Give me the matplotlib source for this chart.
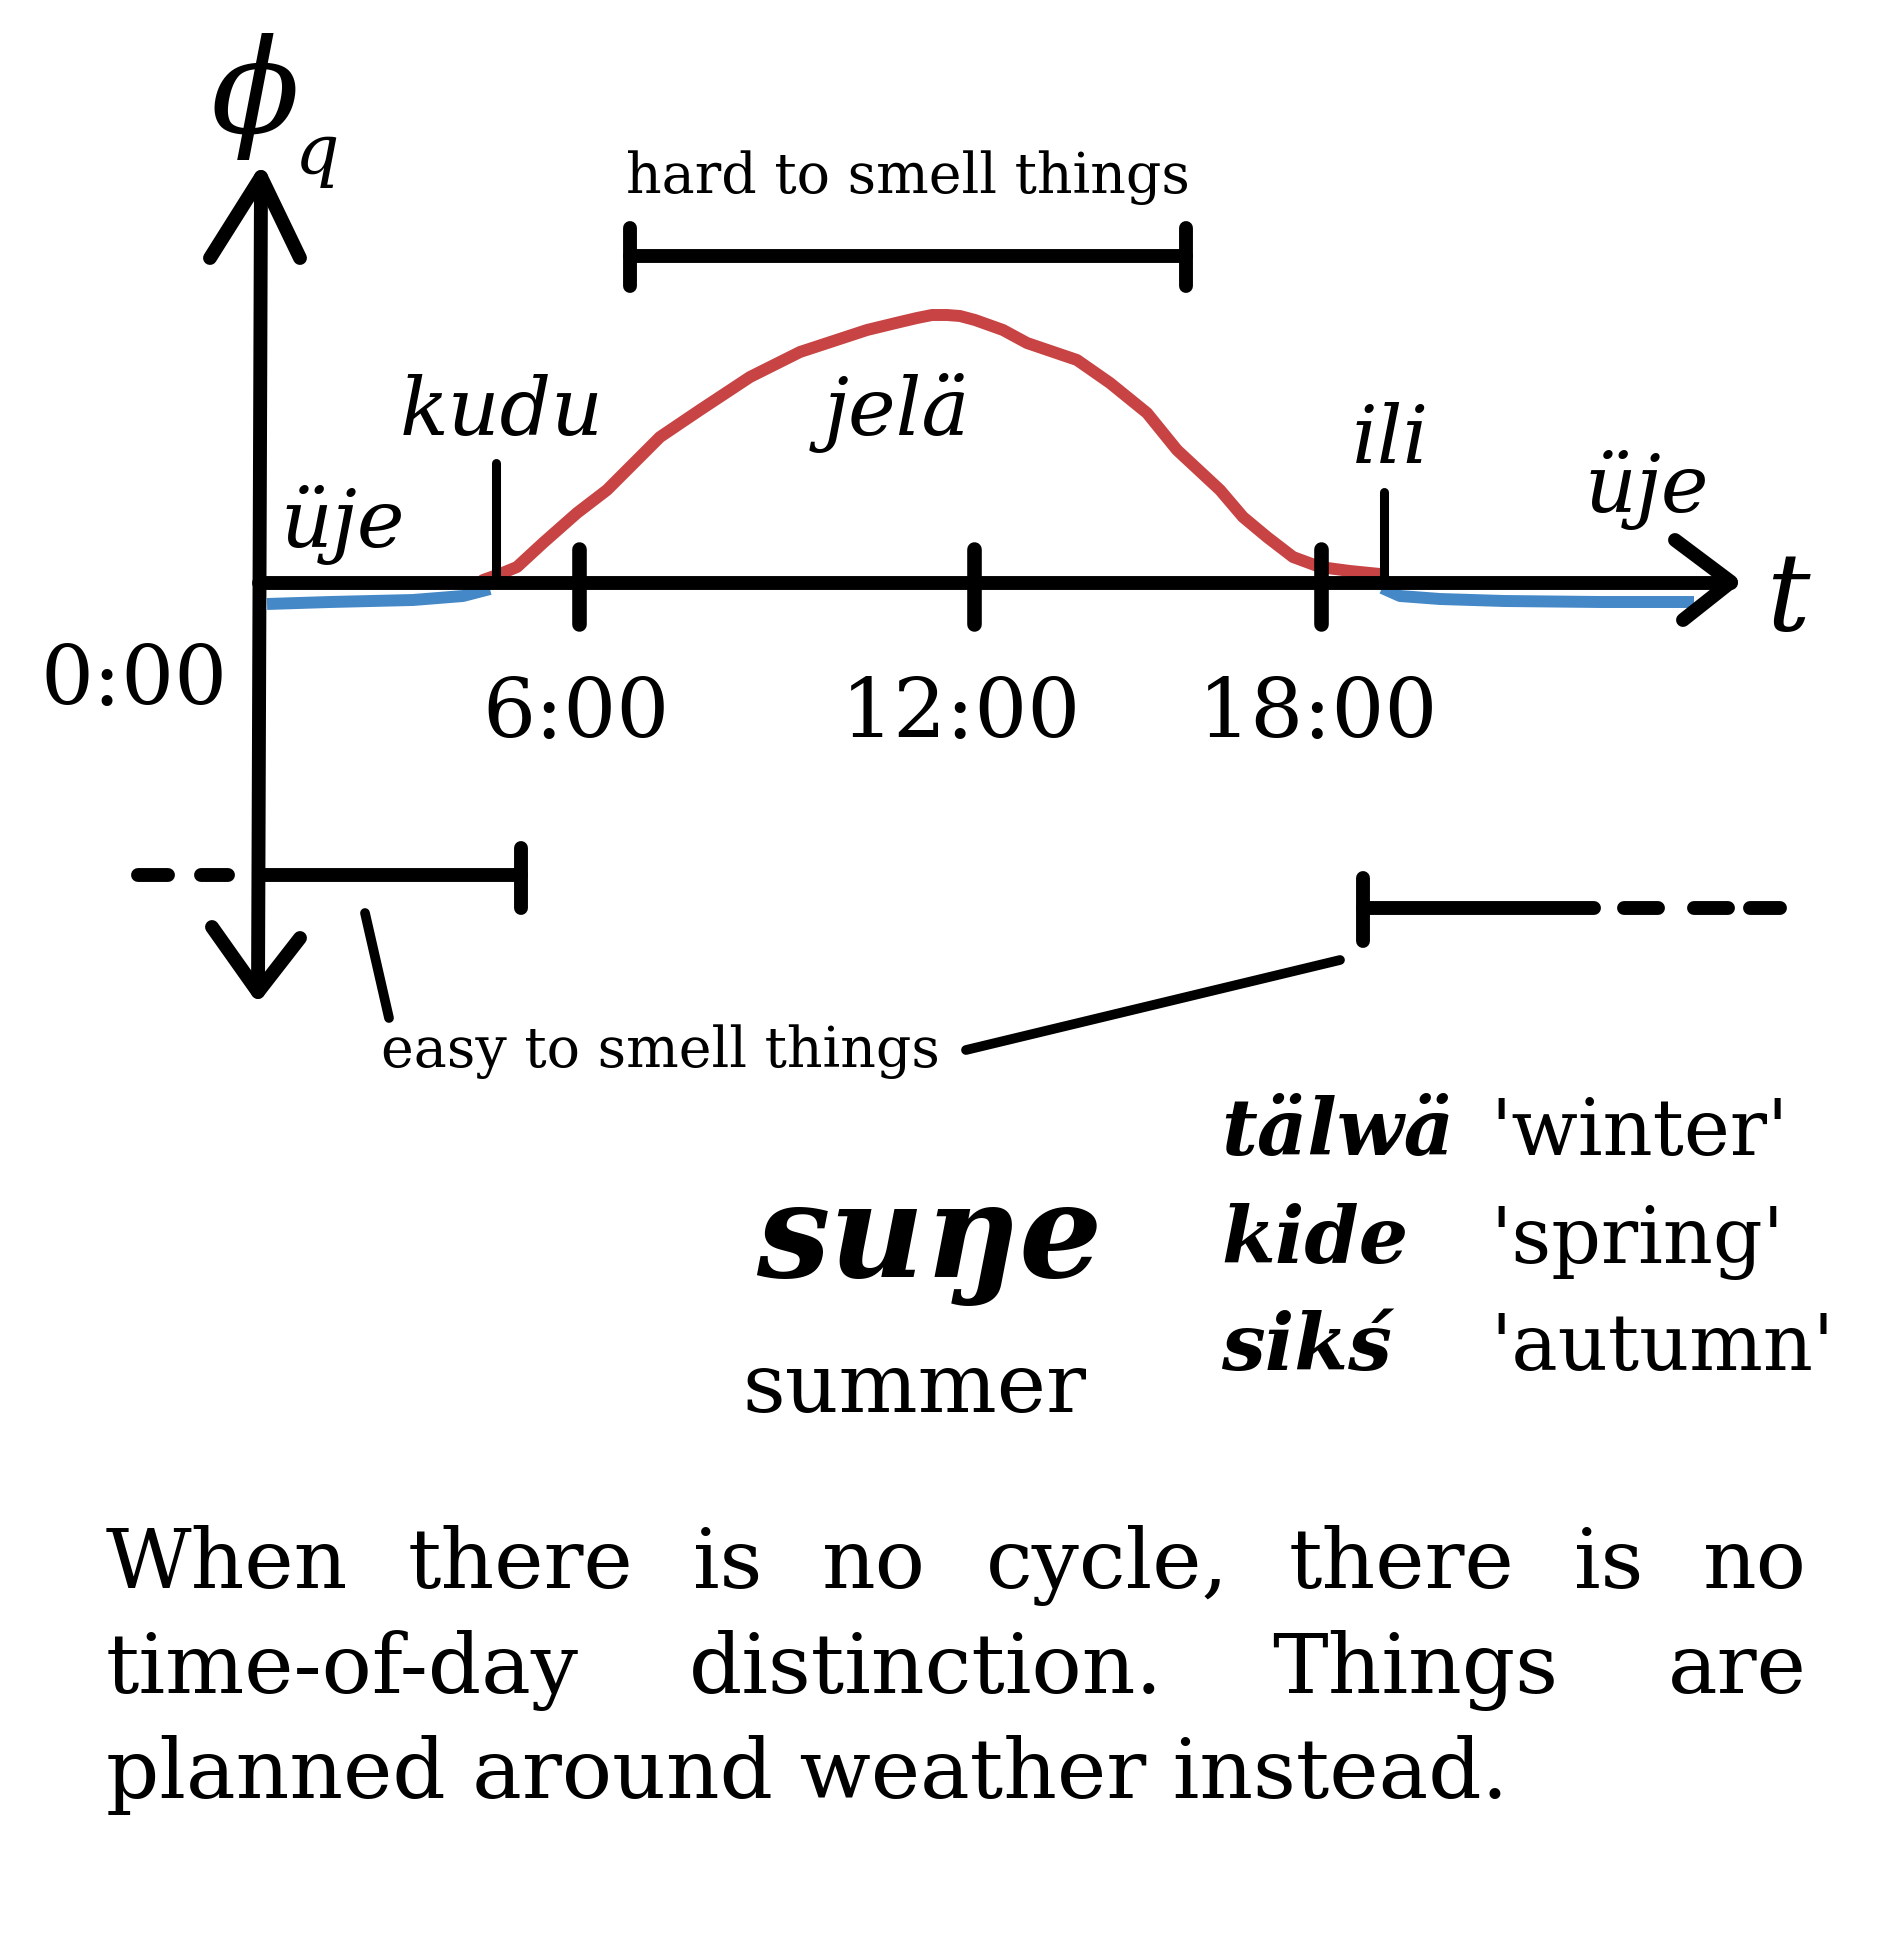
import numpy as np
import matplotlib.pyplot as plt

plt.rcParams['font.family'] = ['DejaVu Serif']
plt.rcParams['mathtext.fontset'] = 'dejavuserif'

W, H = 1888, 1948

# day curve (red) and night curves (blue), drawing coordinates
day_x = [483, 500, 517, 543, 577, 607, 637, 660, 700, 750, 800, 867, 900, 917, 932,
         947, 960, 975, 1003, 1027, 1077, 1110, 1147, 1177, 1220, 1243, 1267, 1293,
         1320, 1350, 1380]
day_y = [580, 574, 567, 543, 513, 490, 460, 437, 410, 377, 352, 330, 322, 318, 315,
         315, 316, 320, 330, 343, 360, 383, 413, 450, 490, 517, 537, 557,
         567, 571, 574]
night_am_x = [267, 330, 413, 463, 490]
night_am_y = [604, 602, 600, 596, 589]
night_pm_x = [1382, 1400, 1440, 1504, 1600, 1694]
night_pm_y = [588, 596, 599, 601, 602, 602]

tick_x = [579, 974, 1321]
tick_labels = ['6:00', '12:00', '18:00']
label_x = [576, 961, 1318]

# named parts of the day
phase_names = ['üje', 'kudu', 'jelä', 'ili', 'üje']
phase_x = [343, 502, 897, 1391, 1647]
phase_y = [547, 435, 435, 463, 512]
kudu_x, ili_x = 496, 1384

season_words = ['tälwä', 'kide', 'sikś']
season_gloss = ["'winter'", "'spring'", "'autumn'"]
season_base = [1155, 1263, 1370]

paragraph = ['When there is no cycle, there is no',
             'time-of-day distinction. Things are',
             'planned around weather instead.']
para_base = [1588, 1693, 1798]

RED = '#C84444'
BLUE = '#4488C8'
K = 'black'
rnd = dict(solid_capstyle='round', solid_joinstyle='round', color=K)

fig = plt.figure(figsize=(W / 100, H / 100), dpi=100)
ax = fig.add_axes([0, 0, 1, 1])
ax.set_xlim(0, W)
ax.set_ylim(H, 0)
ax.axis('off')

# curves
ax.plot(day_x, day_y, color=RED, lw=8.6, solid_capstyle='round', solid_joinstyle='round')
ax.plot(night_am_x, night_am_y, color=BLUE, lw=8.6, solid_capstyle='butt')
ax.plot(night_pm_x, night_pm_y, color=BLUE, lw=8.6, solid_capstyle='butt')

# axes with hand-drawn arrows
ax.plot([261, 258], [177, 992], lw=10, **rnd)
ax.plot([210, 261, 300], [258, 177, 258], lw=10, **rnd)
ax.plot([212, 258, 300], [927, 992, 938], lw=10, **rnd)
ax.plot([259, 1731], [583, 583], lw=10, **rnd)
ax.plot([1675, 1731, 1683], [540, 582, 620], lw=10, **rnd)

ax.text(254, 133, r'$\phi$', fontsize=94, ha='center', va='baseline')
ax.text(294, 174, r'$q$', fontsize=50, ha='left', va='baseline')
ax.text(1766, 630, 't', fontsize=78, style='italic', ha='left', va='baseline')

# hour ticks
for x, lx, lab in zip(tick_x, label_x, tick_labels):
    ax.plot([x, x], [549, 624], lw=10.5, **rnd)
    ax.text(lx, 738, lab, fontsize=60, ha='center', va='baseline')
ax.text(134, 705, '0:00', fontsize=60, ha='center', va='baseline')

# kudu / ili markers and phase names
ax.plot([kudu_x, kudu_x], [463, 583], lw=6.5, **rnd)
ax.plot([ili_x, ili_x], [492, 583], lw=6.5, **rnd)
for name, x, y in zip(phase_names, phase_x, phase_y):
    ax.text(x, y, name, fontsize=58, style='italic', ha='center', va='baseline')

# hard to smell things bracket
ax.plot([630, 1186], [256, 256], lw=10, **rnd)
ax.plot([630, 630], [228, 286], lw=10, **rnd)
ax.plot([1186, 1186], [228, 286], lw=10, **rnd)
ax.text(908, 193, 'hard to smell things', fontsize=40, ha='center', va='baseline')

# easy to smell things brackets
ax.plot([259, 521], [875, 875], lw=10, **rnd)
ax.plot([521, 521], [848, 908], lw=10, **rnd)
for a, b in [(138, 168), (201, 228)]:
    ax.plot([a, b], [875, 875], lw=10, **rnd)
ax.plot([1363, 1594], [908, 908], lw=10, **rnd)
ax.plot([1363, 1363], [878, 941], lw=10, **rnd)
for a, b in [(1624, 1658), (1694, 1728), (1750, 1780)]:
    ax.plot([a, b], [908, 908], lw=10, **rnd)
ax.plot([365, 389], [913, 1018], lw=7, **rnd)
ax.plot([966, 1340], [1050, 960], lw=7, **rnd)
ax.text(381, 1067, 'easy to smell things', fontsize=40, ha='left', va='baseline')

# seasons
ax.text(929, 1277, 'suŋe', fontsize=94, style='italic', weight='bold',
        ha='center', va='baseline')
ax.text(914, 1412, 'summer', fontsize=60, ha='center', va='baseline')
for w, g, y in zip(season_words, season_gloss, season_base):
    ax.text(1221, y, w, fontsize=56, style='italic', weight='bold', ha='left', va='baseline')
    ax.text(1490, y, g, fontsize=56, ha='left', va='baseline')

# justified paragraph
renderer = fig.canvas.get_renderer()
x0, x1 = 106, 1807
for i, (line, y) in enumerate(zip(paragraph, para_base)):
    if i == len(paragraph) - 1:
        ax.text(x0, y, line, fontsize=60, ha='left', va='baseline')
        continue
    words = line.split()
    texts = [ax.text(x0, y, w, fontsize=60, ha='left', va='baseline') for w in words]
    widths = [t.get_window_extent(renderer).width for t in texts]
    gap = (x1 - x0 - sum(widths)) / (len(words) - 1)
    x = x0
    for t, w in zip(texts, widths):
        t.set_x(x)
        x += w + gap

fig.savefig('out.png', dpi=100)
